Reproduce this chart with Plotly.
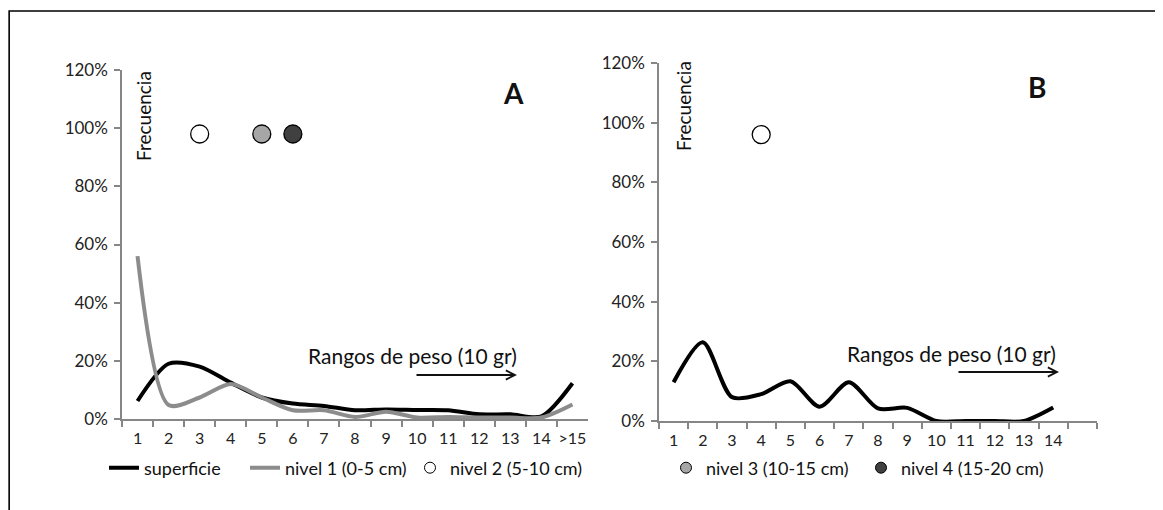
import plotly.graph_objects as go

# page body has an 8px margin; the figure is sized/offset to compensate
OFF = 8
W, H = 1163 - OFF, 510 - OFF

cats_a = ["1", "2", "3", "4", "5", "6", "7", "8", "9", "10", "11", "12", "13", "14", ">15"]
superficie_a = [0.062, 0.19, 0.18, 0.125, 0.074, 0.053, 0.045, 0.03, 0.033, 0.031, 0.03, 0.016, 0.016, 0.009, 0.123]
nivel1_a = [0.56, 0.048, 0.074, 0.12, 0.074, 0.03, 0.03, 0.007, 0.025, 0.005, 0.007, 0.005, 0.005, 0.005, 0.05]
nivel2_a_x, nivel2_a_y = ["3"], [0.98]
nivel3_a_x, nivel3_a_y = ["5"], [0.98]
nivel4_a_x, nivel4_a_y = ["6"], [0.98]

cats_b = ["1", "2", "3", "4", "5", "6", "7", "8", "9", "10", "11", "12", "13", "14", " "]
superficie_b_x = ["1", "2", "3", "4", "5", "6", "7", "8", "9", "10", "11", "12", "13", "14"]
superficie_b = [0.13, 0.264, 0.08, 0.09, 0.133, 0.048, 0.13, 0.042, 0.044, 0.0, 0.0, 0.0, 0.0, 0.045]
nivel2_b_x, nivel2_b_y = ["4"], [0.96]

FONT = "Lato, 'Open Sans', sans-serif"
AX = "#868686"
GRAY = "#8c8c8c"

fig = go.Figure()

# Panel A
fig.add_trace(go.Scatter(x=cats_a, y=superficie_a, mode="lines", name="superficie",
                         line=dict(color="black", width=4, shape="spline", smoothing=0.8),
                         xaxis="x", yaxis="y", legend="legend"))
fig.add_trace(go.Scatter(x=cats_a, y=nivel1_a, mode="lines", name="nivel 1 (0-5 cm)",
                         line=dict(color=GRAY, width=4, shape="spline", smoothing=0.8),
                         xaxis="x", yaxis="y", legend="legend2"))
mk = dict(size=18, line=dict(color="black", width=1.3))
fig.add_trace(go.Scatter(x=nivel2_a_x, y=nivel2_a_y, mode="markers", showlegend=False,
                         marker=dict(color="white", **mk), xaxis="x", yaxis="y"))
fig.add_trace(go.Scatter(x=nivel3_a_x, y=nivel3_a_y, mode="markers", showlegend=False,
                         marker=dict(color="#a6a6a6", **mk), xaxis="x", yaxis="y"))
fig.add_trace(go.Scatter(x=nivel4_a_x, y=nivel4_a_y, mode="markers", showlegend=False,
                         marker=dict(color="#404040", **mk), xaxis="x", yaxis="y"))

# Panel B
fig.add_trace(go.Scatter(x=superficie_b_x, y=superficie_b, mode="lines", showlegend=False,
                         line=dict(color="black", width=4, shape="spline", smoothing=0.8),
                         xaxis="x2", yaxis="y2"))
fig.add_trace(go.Scatter(x=nivel2_b_x, y=nivel2_b_y, mode="markers", showlegend=False,
                         marker=dict(color="white", **mk), xaxis="x2", yaxis="y2"))

# Legend-only entries for markers
lm = dict(size=11, line=dict(color="black", width=1))
fig.add_trace(go.Scatter(x=[None], y=[None], mode="markers", name="nivel 2 (5-10 cm)",
                         marker=dict(color="white", **lm), xaxis="x", yaxis="y", legend="legend3"))
fig.add_trace(go.Scatter(x=[None], y=[None], mode="markers", name="nivel 3 (10-15 cm)",
                         marker=dict(color="#a6a6a6", **lm), xaxis="x", yaxis="y", legend="legend4"))
fig.add_trace(go.Scatter(x=[None], y=[None], mode="markers", name="nivel 4 (15-20 cm)",
                         marker=dict(color="#404040", **lm), xaxis="x", yaxis="y", legend="legend5"))

def px(v):
    return (v - OFF) / W

def py(v):
    return 1 - (v - OFF) / H

yax = dict(range=[0, 1.2], dtick=0.2, tickformat=".0%", showline=True, linecolor=AX, linewidth=1.5,
           ticks="outside", ticklen=6, tickcolor=AX, tickwidth=1.5, showgrid=False, zeroline=False,
           ticklabelstandoff=3,
           tickfont=dict(family=FONT, size=17, color="#222"), fixedrange=True)
xax = dict(type="category", tickson="boundaries", showline=True, linecolor=AX, linewidth=1.5,
           ticks="outside", ticklen=6, tickcolor=AX, tickwidth=1.5, showgrid=False, zeroline=False,
           tickangle=0, ticklabelstandoff=4,
           tickfont=dict(family=FONT, size=16, color="#222"), fixedrange=True)

leg_common = dict(orientation="h", yanchor="middle", y=py(468), xanchor="left",
                  font=dict(family=FONT, size=18, color="#111"), bgcolor="rgba(0,0,0,0)",
                  itemclick=False, itemdoubleclick=False)

def note(text, x, y, size, angle=0):
    return dict(text=text, x=px(x), y=py(y), xref="paper", yref="paper", xanchor="center",
                yanchor="middle", textangle=angle, showarrow=False,
                font=dict(family=FONT, size=size, color="#111"))

def arrow(x_head, y, length):
    return dict(text="", x=px(x_head), y=py(y), xref="paper", yref="paper", showarrow=True,
                ax=-length, ay=0, arrowhead=5, arrowsize=1, arrowwidth=1.8, arrowcolor="#111")

fig.update_layout(
    width=W, height=H, margin=dict(l=0, r=0, t=0, b=0, autoexpand=False),
    paper_bgcolor="white", plot_bgcolor="white",
    xaxis=dict(domain=[px(122), px(588)], anchor="y", categoryorder="array", categoryarray=cats_a,
               range=[-0.5, 14.5], **xax),
    yaxis=dict(domain=[py(419), py(70)], anchor="x", **yax),
    xaxis2=dict(domain=[px(659), px(1097)], anchor="y2", categoryorder="array", categoryarray=cats_b,
                range=[-0.5, 14.5], **xax),
    yaxis2=dict(domain=[py(421), py(63)], anchor="x2", **yax),
    legend=dict(x=px(104), **leg_common),
    legend2=dict(x=px(245), **leg_common),
    legend3=dict(x=px(410), **leg_common),
    legend4=dict(x=px(666), **leg_common),
    legend5=dict(x=px(861), **leg_common),
    showlegend=True,
    shapes=[dict(type="rect", xref="paper", yref="paper", x0=px(8) + 0.001, y0=-0.05, x1=1.05, y1=py(11),
                 line=dict(color="black", width=1.6), fillcolor="rgba(0,0,0,0)")],
    annotations=[
        note("Frecuencia", 143, 116, 19, -90),
        note("Frecuencia", 683, 106, 19, -90),
        note("<b>A</b>", 513, 93, 28),
        note("<b>B</b>", 1037, 87, 28),
        note("Rangos de peso (10 gr)", 412, 355, 21),
        note("Rangos de peso (10 gr)", 951, 353, 21),
        arrow(517, 375, 102),
        arrow(1059, 372, 102),
    ],
)

fig.write_html("out.html")
